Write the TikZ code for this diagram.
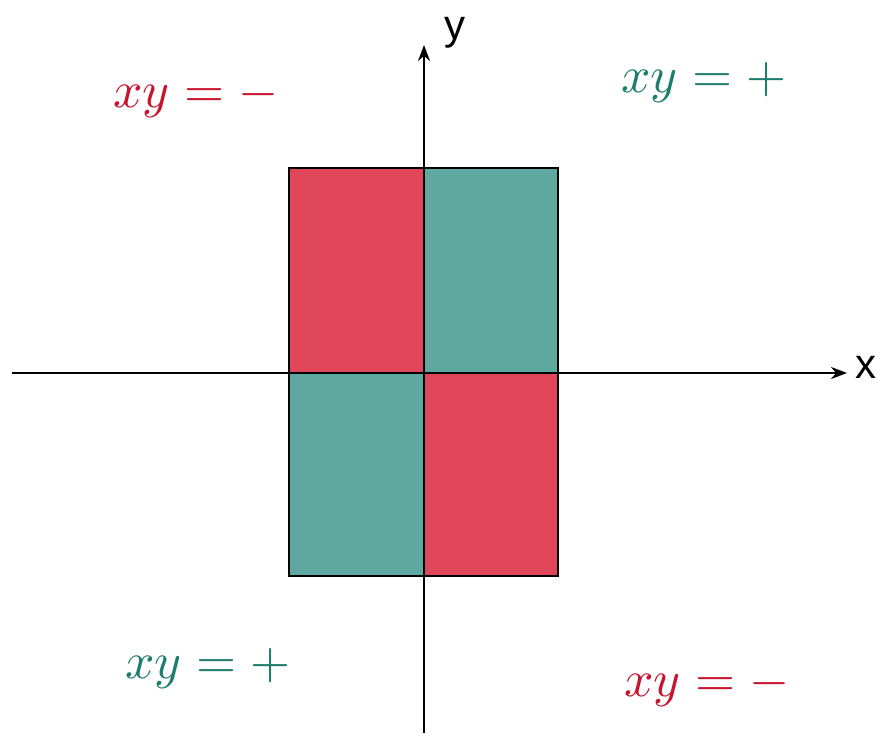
\documentclass[tikz,border=0pt]{standalone}
\usepackage{fontspec}
\setsansfont{Liberation Sans}
\usetikzlibrary{arrows.meta}
\definecolor{boxred}{HTML}{E0465A}
\definecolor{boxteal}{HTML}{5FA8A0}
\definecolor{labred}{HTML}{C8142E}
\definecolor{labteal}{HTML}{1F7D6D}
\begin{document}
\begin{tikzpicture}[x=1pt,y=-1pt,
  quad/.style={draw=black, line width=2.4pt},
  axis/.style={line width=2.2pt, -{Stealth[length=16pt,width=12pt]}},
  eqlabel/.style={font=\fontsize{10}{12}\selectfont, inner sep=0pt, scale=5.15},
  axlabel/.style={font=\sffamily\fontsize{42}{44}\selectfont, inner sep=0pt}]
\useasboundingbox (0,0) rectangle (877,733);
\fill[white] (0,0) rectangle (877,733);
% quadrant boxes
\path[fill=boxred]  (289,168) rectangle (424,373);
\path[fill=boxteal] (424,168) rectangle (558,373);
\path[fill=boxteal] (289,373) rectangle (424,576);
\path[fill=boxred]  (424,373) rectangle (558,576);
\draw[quad] (289,168) rectangle (558,576);
% axes
\coordinate (xs) at (12,373);
\coordinate (xe) at (847,373);
\coordinate (ys) at (424,733);
\coordinate (ye) at (424,45);
\draw[axis] (xs) -- (xe);
\draw[axis] (ys) -- (ye);
\node[axlabel] (xl) at (866,367) {x};
\node[axlabel] (yl) at (455,33) {y};
% labels
\node[eqlabel, text=labred]  (tl) at (196,97)  {$xy=-$};
\node[eqlabel, text=labteal] (tr) at (704,82)  {$xy=+$};
\node[eqlabel, text=labteal] (bl) at (208,668) {$xy=+$};
\node[eqlabel, text=labred]  (br) at (707,686) {$xy=-$};
\end{tikzpicture}
\end{document}
